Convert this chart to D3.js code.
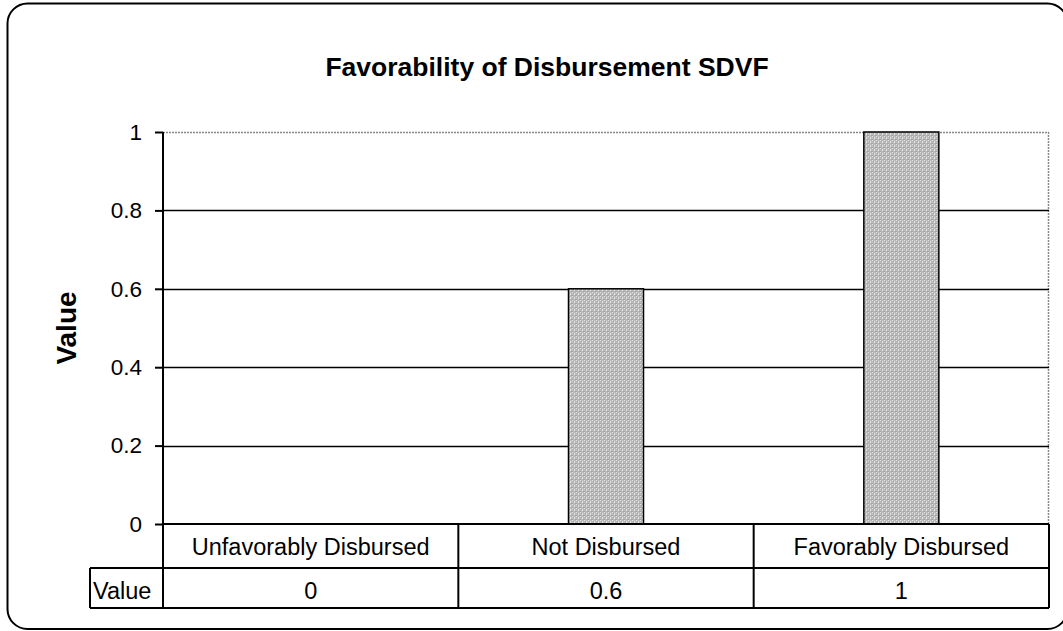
<!DOCTYPE html>
<html>
<head>
<meta charset="utf-8">
<script src="https://cdn.jsdelivr.net/npm/d3@7"></script>
<style>
  html, body { margin: 0; padding: 0; background: #fff; }
  svg { display: block; font-family: "Liberation Sans", Arial, sans-serif; }
</style>
</head>
<body>
<svg id="chart" width="1063" height="631"></svg>
<script>
// Chart data
const categories = ["Unfavorably Disbursed", "Not Disbursed", "Favorably Disbursed"];
const values = [0, 0.6, 1];
const valueLabels = ["0", "0.6", "1"];
const yTicks = [0, 0.2, 0.4, 0.6, 0.8, 1];
const seriesName = "Value";
const title = "Favorability of Disbursement SDVF";

const svg = d3.select("#chart");
const plot = { left: 163, right: 1049, top: 132, bottom: 524 };
const rowH = [44, 40];
const FONT = "Liberation Sans, Arial, sans-serif";

// Stippled grey fill for the bars
const defs = svg.append("defs");
const pat = defs.append("pattern")
  .attr("id", "stipple").attr("patternUnits", "userSpaceOnUse")
  .attr("width", 4).attr("height", 4);
pat.append("rect").attr("width", 4).attr("height", 4).attr("fill", "#bababa");
[[0, 0], [2, 2], [2, 1]].forEach(([px, py]) =>
  pat.append("rect").attr("x", px).attr("y", py).attr("width", 1).attr("height", 1).attr("fill", "#e4e4e4"));
[[1, 1], [3, 3], [0, 3]].forEach(([px, py]) =>
  pat.append("rect").attr("x", px).attr("y", py).attr("width", 1).attr("height", 1).attr("fill", "#a4a4a4"));

// Rounded frame around the chart
svg.append("rect")
  .attr("x", 7.5).attr("y", 3.5).attr("width", 1060).attr("height", 625.5)
  .attr("rx", 20).attr("ry", 20)
  .attr("fill", "#fff").attr("stroke", "#000").attr("stroke-width", 2);

const x = d3.scaleBand().domain(categories).range([plot.left, plot.right]).paddingInner(0).paddingOuter(0);
const y = d3.scaleLinear().domain([0, 1]).range([plot.bottom, plot.top]);

// Title
svg.append("text")
  .attr("x", 547).attr("y", 76)
  .attr("text-anchor", "middle")
  .attr("font-size", 26.5).attr("font-weight", "bold")
  .text(title);

// Y axis title
svg.append("text")
  .attr("transform", `translate(76, ${(plot.top + plot.bottom) / 2}) rotate(-90)`)
  .attr("text-anchor", "middle")
  .attr("font-size", 28).attr("font-weight", "bold")
  .text("Value");

// Plot-area top/right border (dotted grey)
svg.append("path")
  .attr("d", `M${plot.left},${plot.top + 0.5}H${plot.right - 0.5}V${plot.bottom}`)
  .attr("fill", "none").attr("stroke", "#888").attr("stroke-width", 1.5)
  .attr("stroke-dasharray", "2,1");

// Gridlines
svg.append("g").selectAll("line")
  .data(yTicks.filter(t => t > 0 && t < 1))
  .join("line")
  .attr("x1", plot.left).attr("x2", plot.right)
  .attr("y1", d => Math.round(y(d)) + 0.5).attr("y2", d => Math.round(y(d)) + 0.5)
  .attr("stroke", "#000").attr("stroke-width", 1.6);

// Bars
const barW = 75;
svg.append("g").selectAll("rect")
  .data(values.map((v, i) => ({ c: categories[i], v })))
  .join("rect")
  .attr("x", d => x(d.c) + x.bandwidth() / 2 - barW / 2)
  .attr("width", barW)
  .attr("y", d => y(d.v))
  .attr("height", d => y(0) - y(d.v))
  .attr("fill", "url(#stipple)")
  .attr("stroke", "#000").attr("stroke-width", d => d.v > 0 ? 1.5 : 0);

// Y axis
const yAxis = d3.axisLeft(y).tickValues(yTicks).tickSize(8).tickPadding(13)
  .tickFormat(d => d3.format("~g")(d));
const gy = svg.append("g").attr("transform", `translate(${plot.left},0)`).call(yAxis);
gy.attr("font-size", null).attr("font-family", null);
gy.select(".domain").remove();
gy.selectAll(".tick line").attr("stroke", "#000").attr("stroke-width", 2);
gy.selectAll(".tick text").attr("font-size", 22.5).attr("fill", "#000")
  .attr("font-family", FONT);

// Data table under the plot
const tableTop = plot.bottom;
const r1 = tableTop + rowH[0];
const r2 = r1 + rowH[1];
const lblLeft = 90;
const tbl = svg.append("g").attr("stroke", "#000").attr("stroke-width", 2).attr("fill", "none");
// vertical axis line through table
tbl.append("line").attr("x1", plot.left).attr("x2", plot.left).attr("y1", plot.top).attr("y2", r2);
// horizontal lines
tbl.append("line").attr("x1", plot.left).attr("x2", plot.right).attr("y1", tableTop).attr("y2", tableTop);
tbl.append("line").attr("x1", lblLeft).attr("x2", plot.right).attr("y1", r1).attr("y2", r1);
tbl.append("line").attr("x1", lblLeft).attr("x2", plot.right).attr("y1", r2).attr("y2", r2);
tbl.append("line").attr("x1", lblLeft).attr("x2", lblLeft).attr("y1", r1).attr("y2", r2);
// column dividers
tbl.selectAll(".col").data(categories.slice(1)).join("line")
  .attr("x1", d => x(d)).attr("x2", d => x(d)).attr("y1", tableTop).attr("y2", r2);
tbl.append("line").attr("x1", plot.right).attr("x2", plot.right).attr("y1", tableTop).attr("y2", r2);

// Category labels
svg.append("g").selectAll("text").data(categories).join("text")
  .attr("x", d => x(d) + x.bandwidth() / 2)
  .attr("y", tableTop + 31)
  .attr("text-anchor", "middle").attr("font-size", 23.5)
  .text(d => d);

// Value row
svg.append("text").attr("x", lblLeft + 3).attr("y", r1 + 31).attr("font-size", 23.5).text(seriesName);
svg.append("g").selectAll("text").data(valueLabels).join("text")
  .attr("x", (d, i) => x(categories[i]) + x.bandwidth() / 2)
  .attr("y", r1 + 31)
  .attr("text-anchor", "middle").attr("font-size", 23.5)
  .text(d => d);
</script>
</body>
</html>
